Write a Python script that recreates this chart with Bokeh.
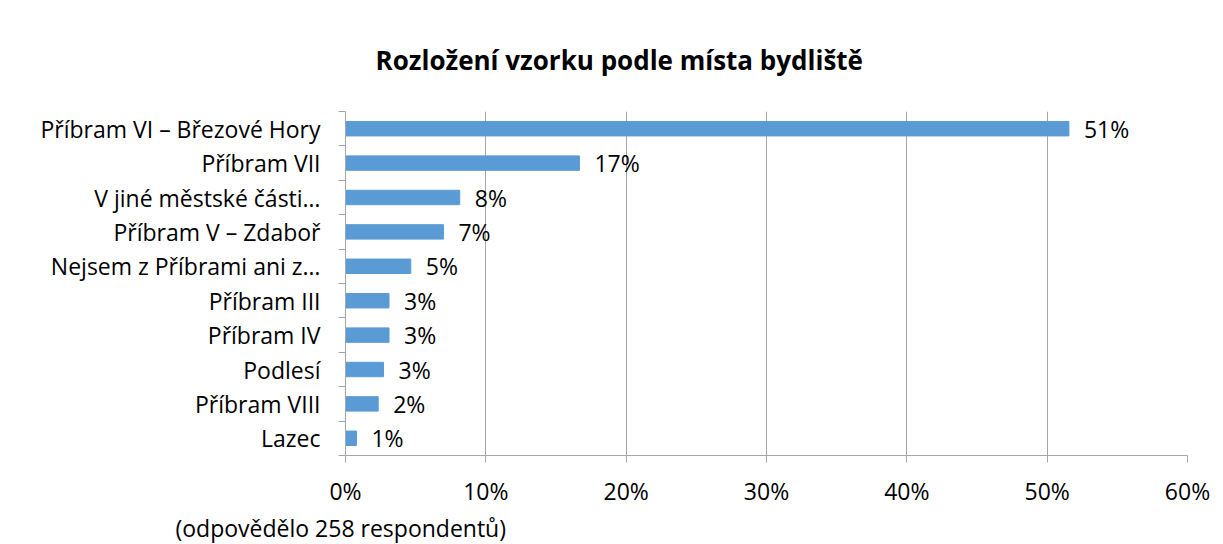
from bokeh.plotting import figure
from bokeh.models import Range1d, FixedTicker, PrintfTickFormatter, ColumnDataSource, Title
from bokeh.core.properties import value
from bokeh.embed import file_html
from bokeh.resources import INLINE

categories = ["Příbram VI – Březové Hory", "Příbram VII", "V jiné městské části…",
              "Příbram V – Zdaboř", "Nejsem z Příbrami ani z…", "Příbram III",
              "Příbram IV", "Podlesí", "Příbram VIII", "Lazec"]
percent = [51.55, 16.67, 8.14, 6.98, 4.65, 3.10, 3.10, 2.71, 2.33, 0.78]
labels = ["51%", "17%", "8%", "7%", "5%", "3%", "3%", "3%", "2%", "1%"]
x_ticks = [0, 10, 20, 30, 40, 50, 60]

FONT = "Open Sans"
FS = "23px"
n = len(categories)
ypos = [n - i - 0.5 for i in range(n)]
src = ColumnDataSource(dict(y=ypos, v=percent, lab=labels, cat=categories))

p = figure(width=1223, height=544, output_backend="svg", toolbar_location=None,
           x_range=Range1d(0, 60), y_range=Range1d(0, n),
           min_border_left=345, min_border_right=36, min_border_top=111, min_border_bottom=89)
p.styles = {"outline": "1px solid #d9d9d9"}
p.outline_line_color = None

p.hbar(y="y", right="v", left=0, height=0.42, color="#5B9BD5", source=src)
p.text(x="v", y="y", text="lab", source=src, x_offset=15, text_baseline="middle",
       text_font=value(FONT), text_font_size=FS, text_color="#000000")

# x axis
p.xaxis.ticker = FixedTicker(ticks=x_ticks)
p.xaxis.formatter = PrintfTickFormatter(format="%d%%")
p.xaxis.axis_line_color = "#a6a6a6"
p.xaxis.major_tick_line_color = "#a6a6a6"
p.xaxis.major_tick_out = 7
p.xaxis.major_tick_in = 0
p.xaxis.minor_tick_line_color = None
p.xaxis.major_label_text_font = FONT
p.xaxis.major_label_text_font_size = FS
p.xaxis.major_label_text_color = "#000000"
p.xaxis.major_label_standoff = 12
p.xgrid.ticker = FixedTicker(ticks=x_ticks)
p.xgrid.grid_line_color = "#a6a6a6"

# y axis
p.yaxis.ticker = FixedTicker(ticks=ypos, minor_ticks=list(range(n + 1)))
p.yaxis.major_label_overrides = {y: c for y, c in zip(ypos, categories)}
p.yaxis.axis_line_color = "#a6a6a6"
p.yaxis.major_tick_line_color = None
p.yaxis.minor_tick_line_color = "#a6a6a6"
p.yaxis.minor_tick_out = 7
p.yaxis.minor_tick_in = 0
p.yaxis.major_label_text_font = FONT
p.yaxis.major_label_text_font_size = FS
p.yaxis.major_label_text_color = "#000000"
p.yaxis.major_label_standoff = 18
p.ygrid.grid_line_color = None

p.title.text = "Rozložení vzorku podle místa bydliště"
p.title.text_font = FONT
p.title.text_font_size = "26px"
p.title.text_font_style = "bold"
p.title.text_color = "#000000"
p.title.align = "left"
p.title.offset = 30
p.title.standoff = 68

p.add_layout(Title(text="(odpovědělo 258 respondentů)", align="left", offset=-170,
                   text_font=FONT, text_font_size=FS, text_color="#000000",
                   text_font_style="normal", standoff=1), "below")

open("out.html", "w").write(file_html(p, INLINE))
